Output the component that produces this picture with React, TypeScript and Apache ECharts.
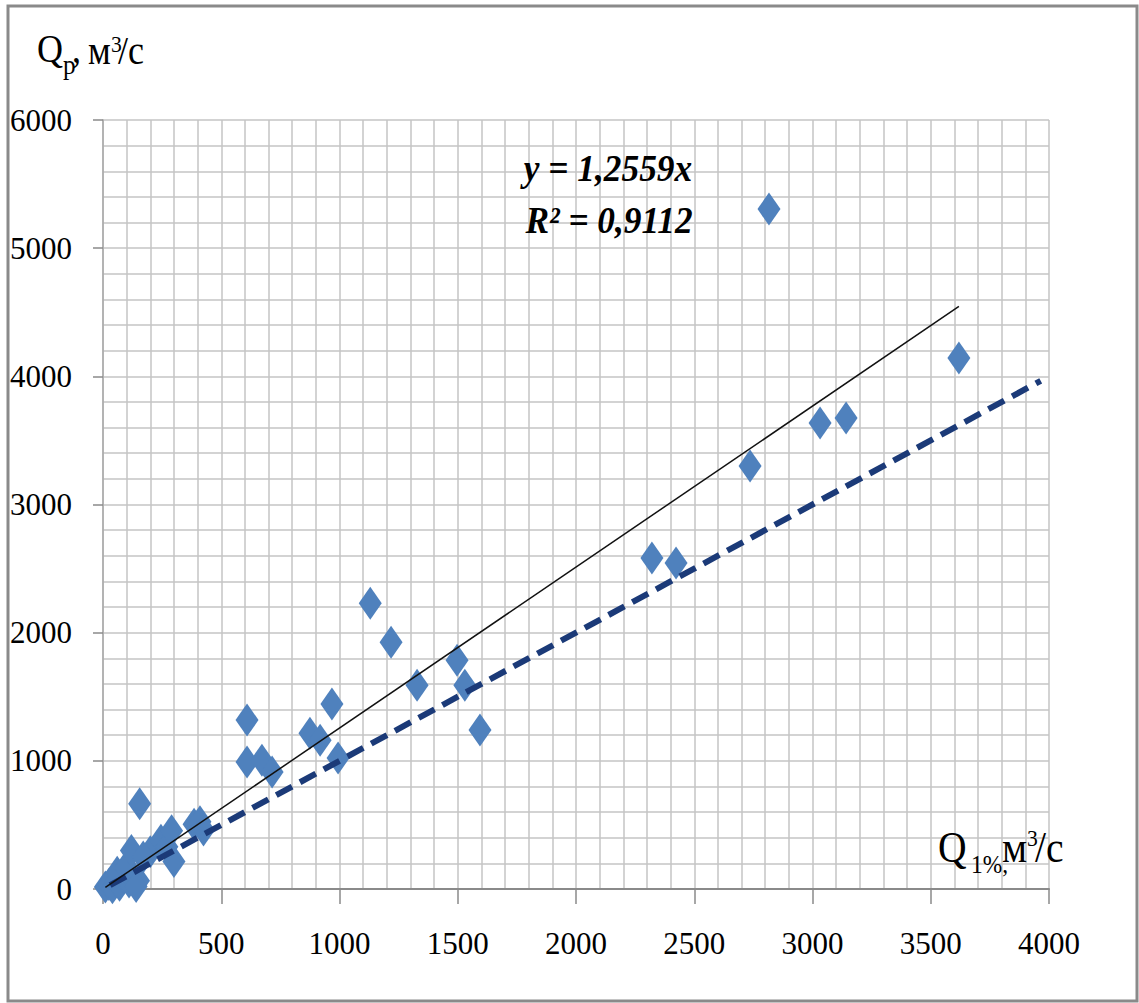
import React, { useEffect, useRef } from "react";
import * as echarts from "echarts";

// Observed 1% discharge (Q 1%, м³/с) against calculated discharge (Qp, м³/с)
const qObserved = [
  10, 25, 40, 55, 70, 90, 110, 125, 150, 140,
  60, 95, 200,
  120, 155, 170, 245, 270, 290, 300, 385, 410, 425,
  609, 609, 672, 715, 875, 918, 968, 994,
  1130, 1218, 1328, 1497, 1530, 1594,
  2321, 2423, 2736, 2816, 3032, 3142, 3619,
];
const qCalculated = [
  15, 35, 10, 60, 30, 85, 55, 110, 65, 20,
  130, 165, 290,
  300, 665, 250, 380, 330, 455, 215, 505, 525, 460,
  1318, 990, 1005, 912, 1215, 1160, 1443, 1022,
  2230, 1925, 1590, 1785, 1590, 1240,
  2583, 2544, 3300, 5305, 3636, 3675, 4143,
];

// Linear trend through the origin and the 1:1 reference line
const trendSlope = 1.2559;
const trendR2 = "0,9112";
const equalityStart = 30;
const equalityEnd = 3965;

const xTickValues = [0, 500, 1000, 1500, 2000, 2500, 3000, 3500, 4000];
const yTickValues = [0, 1000, 2000, 3000, 4000, 5000, 6000];

const SERIF = "Liberation Serif";

function piece(
  text: string,
  x: number,
  baseline: number,
  fontSize: number,
  extra: Record<string, any> = {}
) {
  const { scaleX = 0.9, ...style } = extra;
  return {
    type: "text",
    x,
    y: baseline - 0.34 * fontSize,
    scaleX,
    z: 100,
    style: {
      text,
      fontSize,
      fontFamily: SERIF,
      fill: "#000",
      align: "left",
      verticalAlign: "middle",
      textAlign: "left",
      textVerticalAlign: "middle",
      ...style,
    },
  };
}

export default function App() {
  const ref = useRef<HTMLDivElement>(null);

  useEffect(() => {
    if (!ref.current) return;
    const chart = echarts.init(ref.current, null, { renderer: "svg" });

    const points = qObserved.map((x, i) => [x, qCalculated[i]]);
    const xMin = Math.min(...qObserved);
    const xMax = Math.max(...qObserved);
    const trend = [
      [xMin, xMin * trendSlope],
      [xMax, xMax * trendSlope],
    ];
    const equality = [
      [equalityStart, equalityStart],
      [equalityEnd, equalityEnd],
    ];

    const gridColor = "#c4c4c4";
    const axisColor = "#8a8a8a";
    const labelStyle = {
      fontFamily: SERIF,
      fontSize: 31,
      color: "#000",
      formatter: (v: number) => String(v),
    };

    const equationStyle = {
      fontSize: 38,
      fontFamily: SERIF,
      fontStyle: "italic",
      fontWeight: "bold",
      fill: "#000",
      align: "center",
      verticalAlign: "middle",
      textAlign: "center",
      textVerticalAlign: "middle",
    };

    chart.setOption({
      animation: false,
      backgroundColor: "#fff",
      grid: { left: 103, top: 120, width: 946, height: 769, containLabel: false },
      xAxis: {
        type: "value",
        min: xTickValues[0],
        max: xTickValues[xTickValues.length - 1],
        interval: 500,
        axisLine: { show: true, onZero: false, lineStyle: { color: axisColor, width: 2 } },
        axisTick: { show: true, length: 15, lineStyle: { color: axisColor, width: 1.5 } },
        minorTick: { show: false, splitNumber: 5 },
        splitLine: { show: true, lineStyle: { color: gridColor, width: 1.5 } },
        minorSplitLine: { show: true, lineStyle: { color: gridColor, width: 1.5 } },
        axisLabel: { ...labelStyle, margin: 39 },
      },
      yAxis: {
        type: "value",
        min: yTickValues[0],
        max: yTickValues[yTickValues.length - 1],
        interval: 1000,
        axisLine: { show: true, onZero: false, lineStyle: { color: "#a8a8a8", width: 1.5 } },
        axisTick: { show: true, length: 10, lineStyle: { color: axisColor, width: 1.5 } },
        minorTick: { show: false, splitNumber: 5 },
        splitLine: { show: true, lineStyle: { color: gridColor, width: 1.5 } },
        minorSplitLine: { show: true, lineStyle: { color: gridColor, width: 1.5 } },
        axisLabel: { ...labelStyle, margin: 31 },
      },
      series: [
        {
          name: "Qp",
          type: "scatter",
          data: points,
          symbol: "diamond",
          symbolSize: [23, 33],
          itemStyle: { color: "#4F81BD", opacity: 1 },
          z: 2,
        },
        {
          name: "Q = Qp",
          type: "line",
          data: equality,
          showSymbol: false,
          symbol: "none",
          lineStyle: { color: "#1B3A78", width: 6, type: [18, 9] },
          z: 3,
        },
        {
          name: "trend",
          type: "line",
          data: trend,
          showSymbol: false,
          symbol: "none",
          lineStyle: { color: "#111", width: 1.5 },
          z: 4,
        },
      ],
      graphic: [
        {
          type: "rect",
          shape: { x: 8, y: 6, width: 1129, height: 995 },
          style: { fill: "none", stroke: "#8a8a8a", lineWidth: 3 },
          z: 100,
        },
        // y-axis title: Qp, м³/с
        piece("Q", 37, 62, 40),
        piece("p", 63, 74, 28),
        piece(",", 72, 62, 40),
        piece("м", 88, 64, 40),
        piece("3", 111, 52, 24),
        piece("/с", 118, 64, 40),
        // x-axis title: Q 1%,м³/с
        piece("Q", 938, 862, 44),
        piece("1%,", 971, 873, 26),
        piece("м", 1002, 862, 44),
        piece("3", 1027, 846, 24),
        piece("/с", 1035, 862, 44),
        // trend equation
        {
          type: "text",
          x: 608,
          y: 181 - 0.34 * 38,
          scaleX: 0.93,
          z: 100,
          style: { ...equationStyle, text: "y = " + String(trendSlope).replace(".", ",") + "x" },
        },
        {
          type: "text",
          x: 609,
          y: 233 - 0.34 * 38,
          scaleX: 0.93,
          z: 100,
          style: { ...equationStyle, text: "R² = " + trendR2 },
        },
      ],
    });

    return () => chart.dispose();
  }, []);

  return (
    <div
      ref={ref}
      style={{ position: "absolute", left: 0, top: 0, width: 1139, height: 1003 }}
    />
  );
}
